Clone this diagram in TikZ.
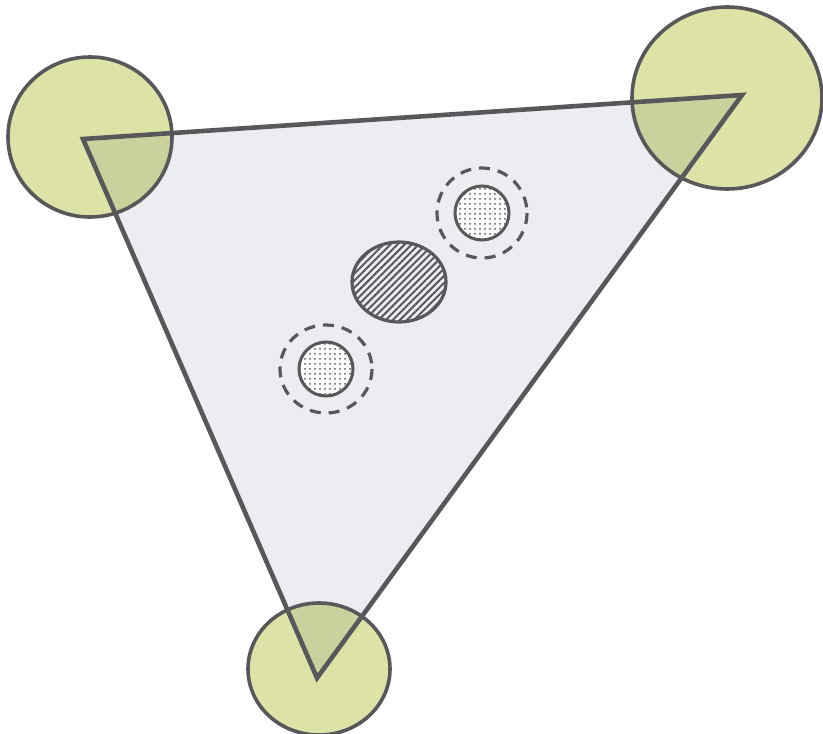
\documentclass[tikz,border=0pt]{standalone}
\usetikzlibrary{patterns.meta}
\definecolor{tri}{RGB}{236,237,241}
\definecolor{blob}{RGB}{221,226,166}
\definecolor{over}{RGB}{203,209,156}
\definecolor{ink}{RGB}{88,88,90}
\begin{document}
\begin{tikzpicture}[x=1pt,y=-1pt,
  blobline/.style={draw=ink,line width=3.6pt},
  triline/.style={draw=ink,line width=4.6pt,line join=miter},
  dashring/.style={draw=ink,line width=3.2pt,dash pattern=on 11pt off 8pt},
  dotdisc/.style={draw=ink,line width=3pt,pattern={Dots[distance=5pt,radius=1pt]},pattern color=ink},
  hatchdisc/.style={draw=ink,line width=3.2pt,pattern={Lines[angle=45,distance=5pt,line width=2pt]},pattern color=ink}]
\useasboundingbox (0,0) rectangle (823,734);
\fill[white] (0,0) rectangle (823,734);
\coordinate (A) at (83,139);
\coordinate (B) at (742,95);
\coordinate (C) at (317,678);
\coordinate (cA) at (90,137);
\coordinate (cB) at (727,98);
\coordinate (cC) at (319,669);
% triangle fill
\fill[tri] (A) -- (B) -- (C) -- cycle;
% circles
\fill[blob] (cA) ellipse [x radius=82,y radius=80];
\fill[blob] (cB) ellipse [x radius=95,y radius=91];
\fill[blob] (cC) ellipse [x radius=71,y radius=66];
\begin{scope}
\clip (A) -- (B) -- (C) -- cycle;
\fill[over] (cA) ellipse [x radius=82,y radius=80];
\fill[over] (cB) ellipse [x radius=95,y radius=91];
\fill[over] (cC) ellipse [x radius=71,y radius=66];
\end{scope}
\draw[blobline] (cA) ellipse [x radius=82,y radius=80];
\draw[blobline] (cB) ellipse [x radius=95,y radius=91];
\draw[blobline] (cC) ellipse [x radius=71,y radius=66];
\draw[triline] (A) -- (B) -- (C) -- cycle;
% inner items
\coordinate (h) at (399,282);
\coordinate (d1) at (482,213);
\coordinate (d2) at (326,369);
\fill[white] (d1) circle[radius=27];
\fill[white] (d2) circle[radius=27];
\path[dotdisc] (d1) circle[radius=27];
\path[dotdisc] (d2) circle[radius=27];
\draw[dashring] (d1) circle[radius=45];
\draw[dashring] (d2) ellipse [x radius=46,y radius=44];
\path[hatchdisc] (h) ellipse [x radius=47,y radius=40];
\end{tikzpicture}
\end{document}
